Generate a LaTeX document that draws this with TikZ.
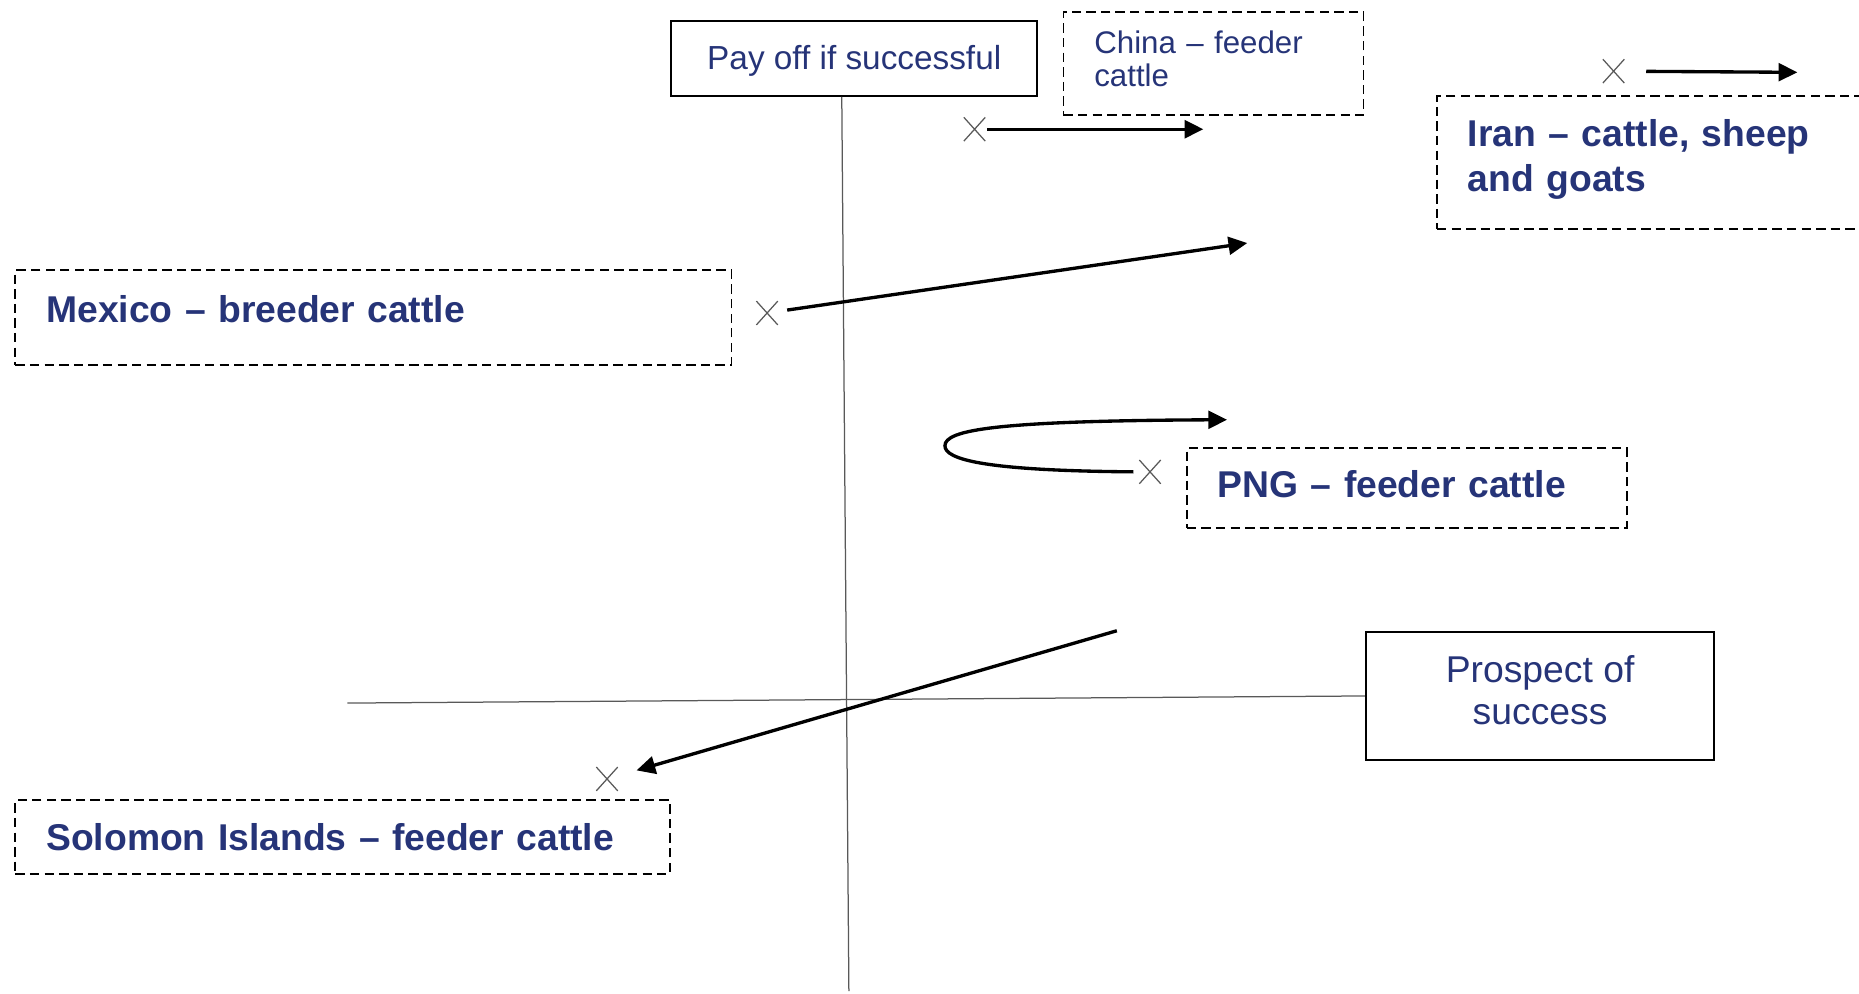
\documentclass[tikz,border=0pt]{standalone}
\usepackage{fontspec}
\setmainfont{Liberation Sans}
\usetikzlibrary{arrows.meta,shapes.misc}
\definecolor{navy}{RGB}{38,52,120}
\tikzset{
  solidbox/.style={draw, line width=0.9pt, text=navy, align=center, inner sep=0pt},
  dashbox/.style={draw, dashed, dash pattern=on 4.5pt off 2.5pt, line width=0.9pt, text=navy,
    align=left, inner xsep=0.52cm, inner ysep=0pt, font=\fontsize{17.9}{21.5}\selectfont\bfseries},
  crossmark/.style={cross out, draw=black!65, line width=0.6pt, minimum width=0.34cm, minimum height=0.38cm, inner sep=0pt},
  axisline/.style={draw=black!65, line width=0.6pt},
  moveline/.style={-{Triangle[length=9pt,width=8.5pt]}, line width=1.6pt},
}
\begin{document}
\begin{tikzpicture}[y=-1cm]
  \useasboundingbox (0,0) rectangle (31.36,16.76);

  % Axis boxes
  \node[solidbox, minimum width=6.18cm, minimum height=1.26cm, text depth=0.04cm, font=\fontsize{16}{19}\selectfont] (payoff) at (14.41,0.99) {Pay off if successful};
  \node[solidbox, minimum width=5.88cm, minimum height=2.16cm, text depth=0.2cm, font=\fontsize{17.9}{20.4}\selectfont] (prospect) at (25.98,11.74) {Prospect of\\success};

  % Axes
  \coordinate (ybot) at (14.32,16.72);
  \coordinate (xleft) at (5.86,11.86);
  \draw[axisline] ([xshift=-0.21cm]payoff.south) -- (ybot);
  \draw[axisline] (xleft) -- (prospect.west);

  % Country boxes
  \node[dashbox, text width=4.02cm, minimum height=1.74cm, text depth=0.72cm, font=\fontsize{15}{15.9}\selectfont] (china) at (20.47,1.07) {China -- feeder\\cattle};
  \node[dashbox, text width=6.36cm, minimum height=2.24cm, text depth=1.0cm] (iran) at (27.94,2.74) {Iran -- cattle, sheep\\and goats};
  \node[dashbox, text width=11.04cm, minimum height=1.6cm, text depth=0.28cm] (mexico) at (6.3,5.36) {Mexico -- breeder cattle};
  \node[dashbox, text width=6.38cm, minimum height=1.34cm, text depth=0.12cm] (png) at (23.73,8.23) {PNG -- feeder cattle};
  \node[dashbox, text width=10.0cm, minimum height=1.24cm] (solomon) at (5.78,14.12) {Solomon Islands -- feeder cattle};

  % Crosses
  \node[crossmark] (chinax) at (16.44,2.18) {};
  \node[crossmark] (iranx) at (27.22,1.2) {};
  \node[crossmark] (mexicox) at (12.94,5.28) {};
  \node[crossmark] (pngx) at (19.4,7.96) {};
  \node[crossmark] (solomonx) at (10.24,13.14) {};

  % Arrow ends
  \coordinate (chinato) at (20.3,2.18);
  \coordinate (iranto) at (30.32,1.22);
  \coordinate (mexicoto) at (21.04,4.1);
  \coordinate (pngto) at (20.7,7.08);
  \coordinate (solomonfrom) at (18.84,10.64);

  % Moves
  \draw[moveline, shorten <=1pt] (chinax) -- (chinato);
  \draw[moveline, shorten <=0.37cm] (iranx) -- (iranto);
  \draw[moveline, shorten <=0.16cm] (mexicox) -- (mexicoto);
  \draw[moveline, shorten <=0.1cm] (pngx.west) .. controls (16.6,7.94) and (15.94,7.75) .. (15.94,7.52)
    .. controls (15.94,7.25) and (16.8,7.1) .. (pngto);
  \draw[moveline, shorten >=0.33cm] (solomonfrom) -- (solomonx);
\end{tikzpicture}
\end{document}
